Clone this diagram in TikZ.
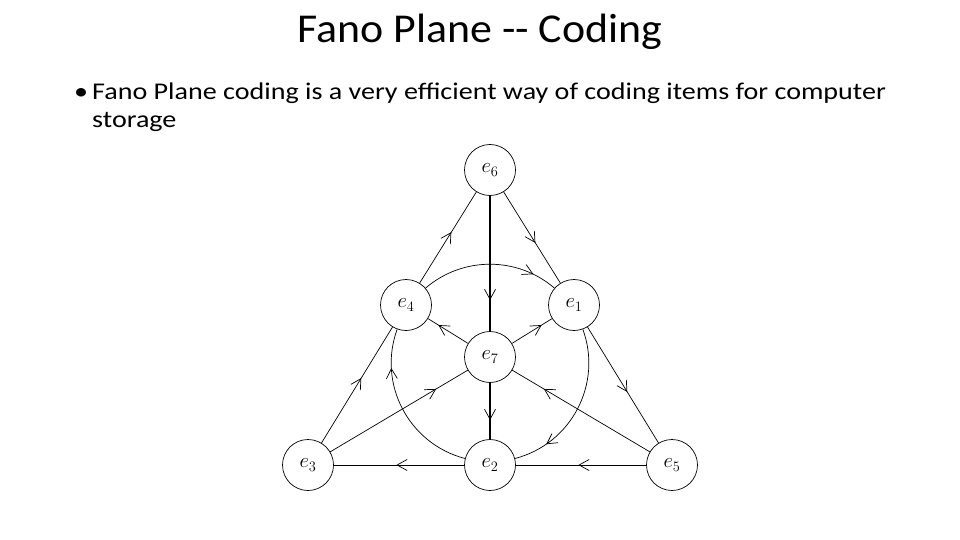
\documentclass[tikz,border=0pt]{standalone}
\usepackage{fontspec}
\newfontfamily\slidefont[FakeStretch=1.17]{Carlito}
\newfontfamily\titlefont[FakeStretch=1.07]{Carlito}
\usetikzlibrary{arrows.meta,decorations.markings}

\begin{document}
\begin{tikzpicture}[x=1pt,y=-1pt,
        elem/.style={draw,circle,fill=white,minimum size=51pt,inner sep=0pt,line width=0.7pt,font=\fontsize{22}{22}\selectfont},
        edge/.style={line width=0.7pt},
        midarrow/.style={postaction={decorate,decoration={markings,mark=at position #1 with {\arrow{Straight Barb[length=10pt,width=11pt,line width=0.7pt]}}}}},
        txt/.style={inner sep=0pt,anchor=base west,font=\slidefont\fontsize{24}{28}\selectfont}]
        \useasboundingbox (0,0) rectangle (960,540);
        % slide text
        \node[inner sep=0pt,anchor=base,font=\titlefont\fontsize{41}{48}\selectfont] (title) at (480,43) {Fano Plane -{}- Coding};
        \node[txt] (bullet) at (74,100) {•};
        \node[txt] (line1) at (92,100) {Fano Plane coding is a very efficient way of coding items for computer};
        \node[txt] (line2) at (92,128) {storage};
        % the seven points
        \node[elem] (e6) at (490,170) {$e_6$};
        \node[elem] (e4) at (406,305) {$e_4$};
        \node[elem] (e1) at (574,305) {$e_1$};
        \node[elem] (e7) at (490,357) {$e_7$};
        \node[elem] (e3) at (308,465) {$e_3$};
        \node[elem] (e2) at (490,465) {$e_2$};
        \node[elem] (e5) at (672,465) {$e_5$};
        % outer triangle
        \draw[edge,midarrow=0.56] (e4) -- (e6);
        \draw[edge,midarrow=0.56] (e6) -- (e1);
        \draw[edge,midarrow=0.56] (e3) -- (e4);
        \draw[edge,midarrow=0.56] (e1) -- (e5);
        \draw[edge,midarrow=0.52] (e5) -- (e2);
        \draw[edge,midarrow=0.52] (e2) -- (e3);
        % lines through e7
        \draw[line width=1.5pt,midarrow=0.77] (e6) -- (e7);
        \draw[line width=1.5pt,midarrow=0.66] (e7) -- (e2);
        \draw[edge,midarrow=0.77] (e3) -- (e7);
        \draw[edge,midarrow=0.77] (e5) -- (e7);
        \draw[edge,midarrow=0.74] (e7) -- (e1);
        \draw[edge,midarrow=0.74] (e7) -- (e4);
        % inner circle
        \draw[edge,midarrow=0.82] (e4) to[bend left=40.8,looseness=0.97] (e1);
        \draw[edge,midarrow=0.79] (e1) to[bend left=47.7,looseness=1.02] (e2);
        \draw[edge,midarrow=0.76] (e2) to[bend left=47.7,looseness=1.02] (e4);
\end{tikzpicture}
\end{document}
